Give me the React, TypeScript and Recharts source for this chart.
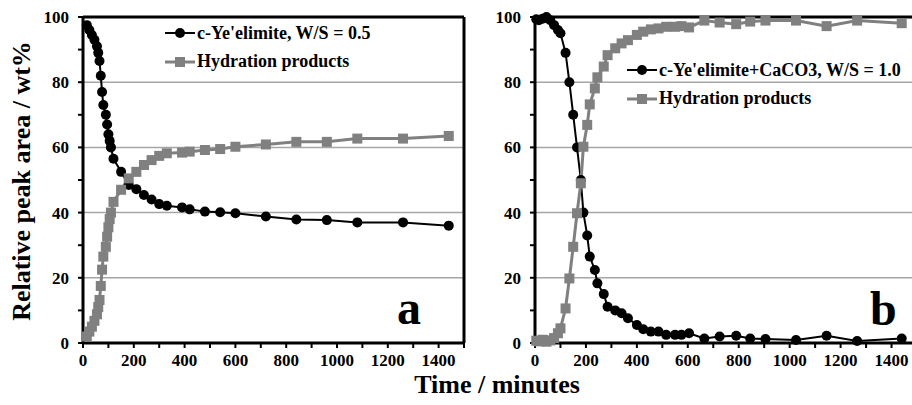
import React from "react";
import {
  LineChart,
  Line,
  XAxis,
  YAxis,
  CartesianGrid,
  ReferenceLine,
  Legend,
} from "recharts";

// panel a: c-Ye'elimite, W/S = 0.5
const timeA = [15, 25, 35, 45, 55, 60, 65, 70, 75, 80, 90, 95, 100, 105, 110, 120, 150, 180, 210, 240, 270, 300, 330, 390, 420, 480, 540, 600, 720, 840, 960, 1080, 1260, 1440];
const yeA = [97.5, 96, 94.5, 93, 91, 89, 86.5, 82, 77, 73, 70, 67, 64, 62, 60, 56.5, 52.5, 48.5, 47.2, 45.4, 44, 42.6, 42.1, 41.6, 41, 40.3, 40.1, 39.8, 38.8, 37.9, 37.7, 37, 37, 36];
const hydA = [2, 3.5, 5, 6.8, 8.8, 11, 13.2, 17.5, 22.5, 26.5, 29.5, 32.6, 35.5, 38, 40, 43.3, 47, 50.5, 52.5, 54.6, 56.1, 57.4, 58.2, 58.4, 58.7, 59.2, 59.5, 60.2, 60.9, 61.7, 61.7, 62.7, 62.7, 63.5];

// panel b: c-Ye'elimite+CaCO3, W/S = 1.0
const timeB = [5, 15, 30, 45, 60, 75, 90, 100, 120, 135, 150, 165, 180, 190, 205, 215, 235, 245, 270, 285, 315, 340, 365, 400, 425, 455, 485, 515, 550, 575, 605, 665, 725, 790, 845, 905, 1025, 1145, 1265, 1440];
const yeB = [99.3, 99, 99.5, 100, 99, 97.5, 96, 95, 89, 80, 70, 60, 50, 40, 33, 26.5, 22.4, 18.3, 15, 11.1, 10, 9.1, 7.6, 5.5, 4.2, 3.5, 3.5, 2.5, 2.5, 2.5, 3, 1.4, 2, 2.2, 1.4, 1.2, 0.9, 2.2, 0.6, 1.4];
const hydB = [0.7, 0.5, 1, 0.4, 0.8, 1.5, 3, 4.5, 10.6, 19.8, 29.5, 39.8, 49, 60.2, 66.9, 73.2, 78.1, 81.5, 84.8, 88.3, 90.4, 91.9, 92.9, 94.5, 95.5, 96.2, 96.5, 97, 97, 97.2, 96.8, 98.9, 98.3, 97.8, 98.6, 98.9, 98.9, 97.2, 98.9, 98.1];

const namesA = ["c-Ye'elimite, W/S = 0.5", "Hydration products"];
const namesB = ["c-Ye'elimite+CaCO3, W/S = 1.0", "Hydration products"];

const xTicks = [0, 100, 200, 300, 400, 500, 600, 700, 800, 900, 1000, 1100, 1200, 1300, 1400, 1500];
const xLabels = [0, 200, 400, 600, 800, 1000, 1200, 1400];
const yTicks = [0, 10, 20, 30, 40, 50, 60, 70, 80, 90, 100];
const yLabels = [0, 20, 40, 60, 80, 100];
const gridY = [20, 40, 60, 80];

const FONT = "'Liberation Serif', 'Times New Roman', serif";
const GRAY = "#808080";

const tickStyle = { fill: "#000", fontSize: 17, fontWeight: "bold", fontFamily: FONT };

const squareDot = (p: any) => (
  <rect key={`sq-${p.index}`} x={p.cx - 5} y={p.cy - 5} width={10} height={10} fill={GRAY} />
);

function LegendBox({ payload }: any) {
  // circle series first, like the original legend
  const items = [...(payload || [])].sort((a: any, b: any) => (a.type === "circle" ? 0 : 1) - (b.type === "circle" ? 0 : 1));
  return (
    <div style={{ fontFamily: FONT, fontWeight: "bold", fontSize: 18, color: "#000" }}>
      {items.map((entry: any, i: number) => (
        <div key={i} style={{ display: "flex", alignItems: "center", height: 28.5, whiteSpace: "nowrap" }}>
          <svg width={30} height={14} style={{ marginRight: 2 }}>
            <line x1={0} y1={7} x2={30} y2={7} stroke={entry.color} strokeWidth={entry.type === "square" ? 3 : 2} />
            {entry.type === "square" ? (
              <rect x={10} y={2} width={10} height={10} fill={entry.color} />
            ) : (
              <circle cx={15} cy={7} r={5} fill={entry.color} />
            )}
          </svg>
          <span>{entry.value}</span>
        </div>
      ))}
    </div>
  );
}

function Panel({ time, ye, hyd, names, yAxisWidth, marginRight, legendLeft, legendTop }: any) {
  const data = time.map((t: number, i: number) => ({ t, ye: ye[i], hyd: hyd[i] }));
  return (
    <LineChart width={470} height={405} data={data} margin={{ top: 17, right: marginRight, bottom: 32, left: 0 }}>
      <CartesianGrid vertical={false} horizontalValues={gridY} stroke="#a6a6a6" strokeWidth={1.5} />
      <XAxis
        dataKey="t"
        type="number"
        domain={[0, 1500]}
        ticks={xTicks}
        interval={0}
        height={30}
        tickSize={5}
        tickMargin={6}
        axisLine={{ stroke: "#000", strokeWidth: 3 }}
        tickLine={{ stroke: "#000", strokeWidth: 2 }}
        tick={tickStyle}
        tickFormatter={(v: number) => (xLabels.includes(v) ? String(v) : "")}
      />
      <YAxis
        type="number"
        domain={[0, 100]}
        ticks={yTicks}
        interval={0}
        width={yAxisWidth}
        tickSize={5}
        tickMargin={9}
        axisLine={{ stroke: "#000", strokeWidth: 3 }}
        tickLine={{ stroke: "#000", strokeWidth: 2 }}
        tick={tickStyle}
        tickFormatter={(v: number) => (yLabels.includes(v) ? String(v) : "")}
      />
      <ReferenceLine y={100} stroke="#000" strokeWidth={3} />
      <ReferenceLine x={1500} stroke="#000" strokeWidth={3} />
      <Legend
        layout="vertical"
        align="center"
        verticalAlign="middle"
        itemSorter={(item: any) => names.indexOf(item.value)}
        wrapperStyle={{ left: legendLeft, top: legendTop, width: "auto" }}
        content={<LegendBox />}
      />
      <Line
        dataKey="ye"
        name={names[0]}
        legendType="circle"
        stroke="#000"
        strokeWidth={2}
        dot={{ r: 5, fill: "#000", stroke: "#000", strokeWidth: 0 }}
        isAnimationActive={false}
      />
      <Line
        dataKey="hyd"
        name={names[1]}
        legendType="square"
        stroke={GRAY}
        strokeWidth={3}
        dot={squareDot}
        isAnimationActive={false}
      />
    </LineChart>
  );
}

export default function App() {
  return (
    <div style={{ position: "absolute", left: 0, top: 0, width: 912, height: 405, overflow: "hidden", background: "#fff", fontFamily: FONT }}>
      <div style={{ position: "absolute", left: 0, top: 0 }}>
        <Panel time={timeA} ye={yeA} hyd={hydA} names={namesA} yAxisWidth={83} marginRight={6} legendLeft={165} legendTop={19} />
      </div>
      <div style={{ position: "absolute", left: 460, top: 0 }}>
        <Panel time={timeB} ye={yeB} hyd={hydB} names={namesB} yAxisWidth={75} marginRight={13} legendLeft={167} legendTop={56} />
      </div>
      <div style={{ position: "absolute", left: 397, top: 284, fontSize: 48, fontWeight: "bold", lineHeight: 1 }}>a</div>
      <div style={{ position: "absolute", left: 870, top: 285, fontSize: 48, fontWeight: "bold", lineHeight: 1 }}>b</div>
      <div
        style={{
          position: "absolute",
          left: 22 - 200,
          top: 181 - 15,
          width: 400,
          height: 30,
          lineHeight: "30px",
          textAlign: "center",
          fontSize: 26,
          fontWeight: "bold",
          transform: "rotate(-90deg)",
        }}
      >
        Relative peak area / wt%
      </div>
      <div style={{ position: "absolute", left: 297, top: 372, width: 400, textAlign: "center", fontSize: 26, fontWeight: "bold", lineHeight: "26px" }}>
        Time / minutes
      </div>
    </div>
  );
}
